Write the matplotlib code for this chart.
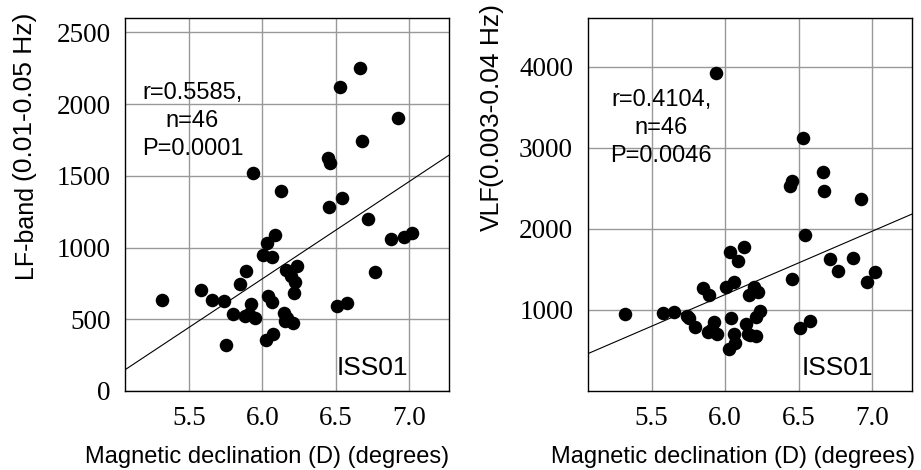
import numpy as np
import matplotlib.pyplot as plt

# magnetic declination (degrees), same 46 subjects in both panels
decl = [5.316, 5.579, 5.655, 5.742, 5.751, 5.797, 5.848, 5.888, 5.885, 5.925,
        5.936, 5.948, 5.910, 6.005, 6.034, 6.086, 6.063, 6.038, 6.063, 6.027,
        6.070, 6.130, 6.162, 6.198, 6.212, 6.225, 6.237, 6.145, 6.155, 6.210,
        6.170, 6.445, 6.457, 6.455, 6.527, 6.664, 6.675, 6.545, 6.716, 6.509,
        6.577, 6.766, 6.925, 6.873, 6.964, 7.020]
# LF-band power (0.01-0.05 Hz)
lf = [634, 705, 636, 625, 321, 535, 745, 835, 525, 603,
      1517, 508, 540, 950, 1032, 1088, 932, 662, 621, 355,
      396, 1396, 845, 800, 680, 763, 873, 543, 487, 472,
      510, 1622, 1587, 1285, 2117, 2249, 1743, 1343, 1197, 592,
      616, 832, 1900, 1059, 1071, 1099]
# VLF power (0.003-0.04 Hz)
vlf = [951, 959, 975, 930, 900, 786, 1270, 1190, 729, 848,
       3922, 704, 760, 1288, 1711, 1600, 1345, 897, 708, 520,
       590, 1773, 1189, 1284, 910, 1215, 985, 831, 708, 675,
       690, 2533, 2595, 1382, 3117, 2697, 2463, 1929, 1629, 774,
       868, 1485, 2369, 1637, 1349, 1473]

stats = ["r=0.5585,\nn=46\nP=0.0001", "r=0.4104,\nn=46\nP=0.0046"]

serif = 'Liberation Serif'
sans = 'Liberation Sans'

fig = plt.figure(figsize=(9.21, 4.70), dpi=100)
W, H = 921, 470


def panel(left_px, right_px, y, ylim, yticks, stat_xy, stat, iss_x,
          lab_x, lab_big, big_y, lab_small, small_y, small_size):
    ax = fig.add_axes([left_px / W, (H - 391) / H, (right_px - left_px) / W, (391 - 18) / H])
    x = np.array(decl)
    ax.scatter(x, y, s=95, color='black', zorder=3, linewidths=0)
    slope, icpt = np.polyfit(x, y, 1)
    xl = np.array([5.065, 7.27])
    ax.plot(xl, icpt + slope * xl, color='black', lw=0.8, zorder=2)
    ax.set_xlim(5.065, 7.27)
    ax.set_ylim(*ylim)
    ax.set_xticks([5.5, 6.0, 6.5, 7.0])
    ax.set_xticklabels(['5.5', '6.0', '6.5', '7.0'])
    ax.set_yticks(yticks)
    ax.tick_params(length=0, labelsize=19.5)
    ax.tick_params(axis='y', pad=10.5)
    ax.tick_params(axis='x', pad=11)
    for lbl in ax.get_xticklabels() + ax.get_yticklabels():
        lbl.set_family(serif)
    ax.grid(True, color='#999999', lw=1)
    ax.set_axisbelow(True)
    for sp in ax.spines.values():
        sp.set_linewidth(1)
        sp.set_color('black')
    fig.text(stat_xy[0] / W, (H - stat_xy[1]) / H, stat, ha='center', va='center',
             family=sans, fontsize=17, linespacing=1.35, multialignment='center')
    fig.text(iss_x / W, (H - 368) / H, 'ISS01', ha='center', va='center',
             family=sans, fontsize=19)
    # y label drawn in two sizes, like the original
    fig.text(lab_x / W, (H - big_y) / H, lab_big, rotation=90, ha='center',
             va='bottom', family=sans, fontsize=18)
    fig.text(lab_x / W, (H - small_y) / H, lab_small, rotation=90, ha='center',
             va='bottom', family=sans, fontsize=small_size)
    return ax


panel(125, 449, lf, (0, 2600), [0, 500, 1000, 1500, 2000, 2500],
      (192.5, 121), stats[0], 372, 25, 'LF-band', 278, '(0.01-0.05 Hz)', 181, 19)
panel(587.7, 911.7, vlf, (0, 4600), [1000, 2000, 3000, 4000],
      (661, 128), stats[1], 837, 492, 'VLF', 231, '(0.003-0.04 Hz)', 187, 19)

fig.text(267 / W, (H - 457) / H, 'Magnetic declination (D) (degrees)', ha='center',
         va='center', family=sans, fontsize=17)
fig.text(733 / W, (H - 457) / H, 'Magnetic declination (D) (degrees)', ha='center',
         va='center', family=sans, fontsize=17)

fig.savefig('out.png', dpi=100)
